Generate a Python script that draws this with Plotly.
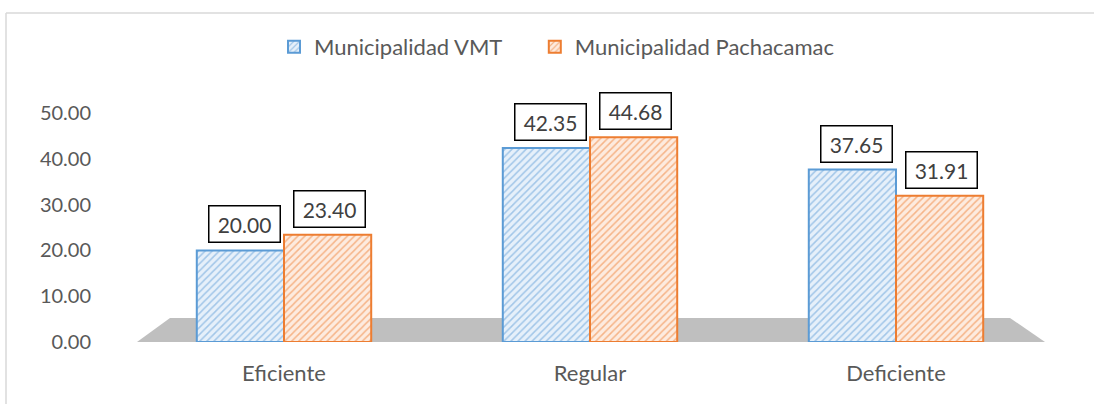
import plotly.graph_objects as go

categories = ["Eficiente", "Regular", "Deficiente"]
vmt_values = [20.00, 42.35, 37.65]
pacha_values = [23.40, 44.68, 31.91]
series_names = ["Municipalidad VMT", "Municipalidad Pachacamac"]
tick_vals = [0, 10, 20, 30, 40, 50]

W, H = 1094, 404
ML, MR, MT, MB = 131, 45, 113, 62
PW, PH = W - ML - MR, H - MT - MB

def px_x(x):
    return (x - ML) / PW

def px_y(y):
    return (H - MB - y) / PH

FONT = "Lato"
GRAY = "#595959"
NBSP = "\u00a0"

fig = go.Figure()
fig.add_trace(go.Bar(
    x=categories, y=vmt_values, name=series_names[0] + NBSP * 5,
    marker=dict(color="#DDEBF7", line=dict(color="#5B9BD5", width=2),
                pattern=dict(shape="/", fgcolor="#5B9BD5", bgcolor="#E6F0FA",
                             size=5, solidity=0.3)),
))
fig.add_trace(go.Bar(
    x=categories, y=pacha_values, name=series_names[1],
    marker=dict(color="#FBE5D6", line=dict(color="#ED7D31", width=2),
                pattern=dict(shape="/", fgcolor="#ED7D31", bgcolor="#FDEBDF",
                             size=5, solidity=0.3)),
))

# data labels
for vals, shift in ((vmt_values, -40), (pacha_values, 45)):
    for c, v in zip(categories, vals):
        fig.add_annotation(
            x=c, y=v, text=f"{v:.2f}", showarrow=False,
            xshift=shift, yshift=7, yanchor="bottom",
            font=dict(family=FONT, size=21, color="#404040"),
            bgcolor="white", bordercolor="black", borderwidth=1.5,
            borderpad=5, width=60,
        )

# gray floor (3D look)
x0, x1, x2, x3 = px_x(137), px_x(170), px_x(1010), px_x(1045)
y0, y1 = px_y(342), px_y(318)
fig.add_shape(type="path", xref="paper", yref="paper", layer="below",
              path=f"M {x0},{y0} L {x1},{y1} L {x2},{y1} L {x3},{y0} Z",
              fillcolor="#BFBFBF", line=dict(width=0))

# chart border (top and left edges)
fig.add_shape(type="line", xref="paper", yref="paper", layer="below",
              x0=px_x(6), x1=px_x(1094), y0=px_y(13), y1=px_y(13),
              line=dict(color="#D9D9D9", width=1.5))
fig.add_shape(type="line", xref="paper", yref="paper", layer="below",
              x0=px_x(6), x1=px_x(6), y0=px_y(13), y1=px_y(404),
              line=dict(color="#D9D9D9", width=1.5))

fig.update_layout(
    width=W, height=H,
    margin=dict(l=ML, r=MR, t=MT, b=MB),
    paper_bgcolor="white", plot_bgcolor="rgba(0,0,0,0)",
    barmode="group", bargap=0.43, bargroupgap=0,
    font=dict(family=FONT, color=GRAY),
    legend=dict(orientation="h", x=px_x(557), xanchor="center",
                y=px_y(47), yanchor="middle",
                font=dict(family=FONT, size=22, color=GRAY),
                itemwidth=30),
    showlegend=True,
)
fig.update_xaxes(showgrid=False, showline=False, ticks="",
                 tickfont=dict(family=FONT, size=22, color=GRAY),
                 ticklabelstandoff=16)
fig.update_yaxes(range=[0, 50], tickvals=tick_vals, tickformat=".2f",
                 showgrid=False, showline=False, zeroline=False, ticks="",
                 tickfont=dict(family=FONT, size=20, color=GRAY),
                 ticklabelstandoff=39)

fig.write_html("out.html", config={"displayModeBar": False},
               post_script="document.body.style.margin='0px';")
